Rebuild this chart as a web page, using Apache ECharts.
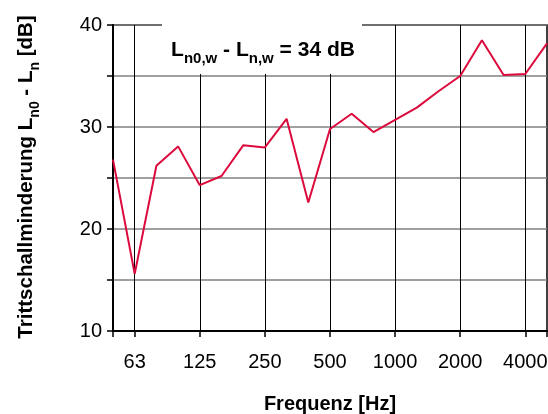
<!DOCTYPE html>
<html>
<head>
<meta charset="utf-8">
<script src="https://cdn.jsdelivr.net/npm/echarts@6/dist/echarts.min.js"></script>
<style>
html,body{margin:0;padding:0;background:#fff;}
#chart{width:548px;height:414px;}
</style>
</head>
<body>
<div id="chart"></div>
<script>
const frequencies = ['50','63','80','100','125','160','200','250','315','400','500','630','800','1000','1250','1600','2000','2500','3150','4000','5000'];
const reduction = [26.8,15.6,26.2,28.1,24.3,25.2,28.2,28.0,30.8,22.6,29.8,31.3,29.5,30.7,31.9,33.5,35.0,38.5,35.1,35.2,38.2];
const xTickLabels = ['63','125','250','500','1000','2000','4000'];
const yTickLabels = [10,20,30,40];

const FONT = '"Liberation Sans", Arial, Helvetica, sans-serif';
const chart = echarts.init(document.getElementById('chart'));
const isGrid = (i) => (i - 1) % 3 === 0 && i < frequencies.length - 1;

chart.setOption({
  animation: false,
  backgroundColor: '#fff',
  grid: { left: 113, right: 1, top: 25, bottom: 83, show: true, borderColor: '#000', borderWidth: 1.5,
    containLabel: false, outerBoundsMode: 'none' },
  xAxis: {
    type: 'category',
    data: frequencies,
    boundaryGap: false,
    axisLine: { lineStyle: { color: '#000', width: 2 } },
    axisTick: { show: true, length: 6, lineStyle: { color: '#000', width: 1.5 },
      interval: (i) => i === 0 || i === frequencies.length - 1 || isGrid(i) },
    axisLabel: { interval: (i, v) => xTickLabels.includes(v) && isGrid(i), color: '#000', fontFamily: FONT, fontSize: 20, margin: 21 },
    splitLine: { show: true, interval: (i) => isGrid(i), lineStyle: { color: '#000', width: 1 } },
    name: 'Frequenz [Hz]', nameLocation: 'middle', nameGap: 63,
    nameTextStyle: { color: '#000', fontFamily: FONT, fontSize: 20, fontWeight: 'bold' }
  },
  yAxis: {
    type: 'value', min: 10, max: 40, interval: 5,
    axisLine: { show: true, lineStyle: { color: '#000', width: 2 } },
    axisTick: { show: true, length: 6, lineStyle: { color: '#000', width: 1.5 } },
    axisLabel: { color: '#000', fontFamily: FONT, fontSize: 20, margin: 11,
      formatter: (v) => yTickLabels.includes(v) ? String(v) : '' },
    splitLine: { show: true, lineStyle: { color: '#808080', width: 1.5 } }
  },
  graphic: [
    { type: 'rect', z: 100, shape: { x: 162, y: 22, width: 200, height: 52 }, style: { fill: '#fff' } },
    { type: 'text', z: 101, x: 263, y: 48,
      style: { text: '{m|L}{s|n0,w}{m| - L}{s|n,w}{m| = 34 dB}', align: 'center', verticalAlign: 'middle',
        rich: {
          m: { fontFamily: FONT, fontSize: 21, fontWeight: 'bold', fill: '#000', lineHeight: 26, verticalAlign: 'bottom' },
          s: { fontFamily: FONT, fontSize: 15, fontWeight: 'bold', fill: '#000', lineHeight: 26, verticalAlign: 'bottom', padding: [0,0,-5,0] }
        } } },
    { type: 'text', z: 101, x: 24, y: 177, rotation: Math.PI / 2,
      style: { text: '{m|Trittschallminderung L}{s|n0}{m| - L}{s|n}{m| [dB]}', align: 'center', verticalAlign: 'middle',
        rich: {
          m: { fontFamily: FONT, fontSize: 20.5, fontWeight: 'bold', fill: '#000', lineHeight: 26, verticalAlign: 'bottom' },
          s: { fontFamily: FONT, fontSize: 14, fontWeight: 'bold', fill: '#000', lineHeight: 26, verticalAlign: 'bottom', padding: [0,0,-5,0] }
        } } }
  ],
  series: [{
    type: 'line', data: reduction, symbol: 'none',
    lineStyle: { color: '#dc0a3c', width: 2 }, z: 5
  }]
});
</script>
</body>
</html>
